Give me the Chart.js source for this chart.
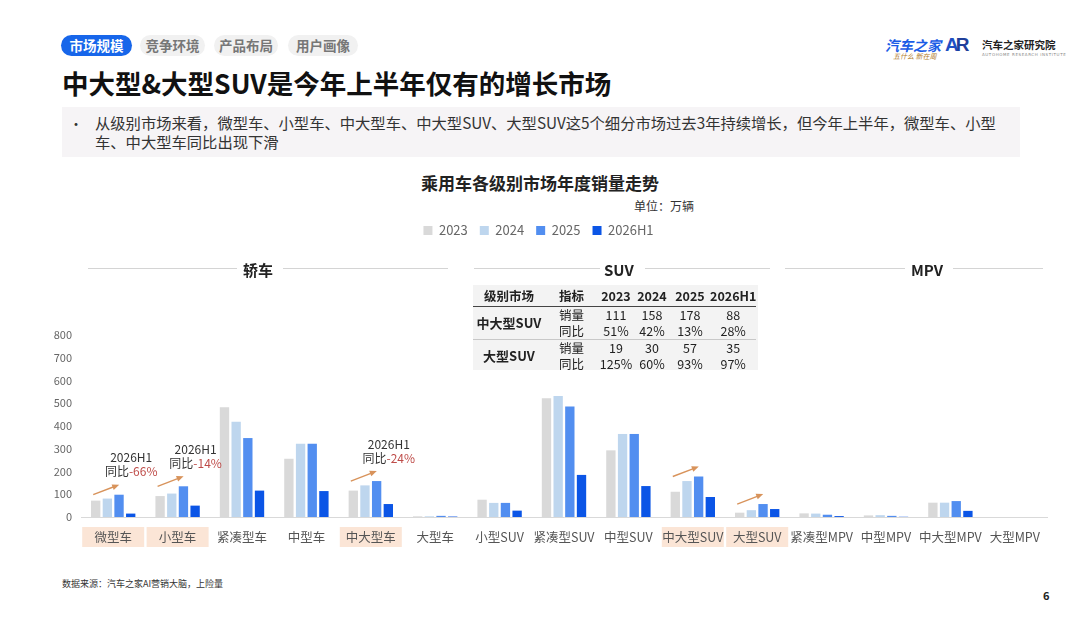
<!DOCTYPE html>
<html>
<head>
<meta charset="utf-8">
<script src="https://cdn.jsdelivr.net/npm/chart.js@4.4.1/dist/chart.umd.min.js"></script>
<style>
  body { margin: 0; background: #fff; font-family: "Noto Sans CJK SC", "Noto Sans", sans-serif; }
  #page { position: relative; width: 1080px; height: 622px; overflow: hidden; background: #fff; }
  .abs { position: absolute; white-space: nowrap; }
  .tab { position: absolute; top: 35px; height: 21px; line-height: 21px; border-radius: 11px; background: #f1f1f1;
         color: #777; font-size: 13.5px; font-weight: 700; text-align: center; }
  .tab.active { background: #1766ea; color: #fff; }
  #title { left: 62px; top: 63px; font-size: 26.5px; font-weight: 700; color: #111; }
  #bullet { position: absolute; left: 62px; top: 107px; width: 958px; height: 50px; background: #f6f4f6; }
  #bullet .dot { position: absolute; left: 7px; top: 6px; font-size: 14px; color: #333; }
  #bullet .txt { position: absolute; left: 33px; top: 6px; width: 910px; font-size: 15.3px; line-height: 19px; color: #333; white-space: normal; }
  #chartTitle { left: 0; width: 1080px; top: 170px; text-align: center; font-size: 17px; font-weight: 700; color: #222; }
  #unit { left: 634px; top: 197px; font-size: 12px; color: #333; }
  .sec { position: absolute; top: 259px; font-size: 15px; font-weight: 700; color: #222; }
  .secline { position: absolute; top: 268px; height: 1px; background: #d4d4d4; }
  #wrap { position: absolute; left: 30px; top: 212px; width: 1050px; height: 340px; }
  #tbl { position: absolute; left: 473px; top: 285px; width: 285px; height: 85px; background: #f3f3f3; }
  #tbl table { border-collapse: collapse; font-size: 12.5px; color: #222; }
  #tbl td { padding: 0; height: 16px; line-height: 16px; text-align: center; }
  #tbl tr.head td { font-weight: 700; height: 21px; border-bottom: 1.5px solid #444; }
  #tbl td.grp { font-weight: 700; font-size: 13px; }
  #tbl tr.sep td { border-bottom: 1px solid #c8c8c8; }
  #source { left: 62px; top: 577px; font-size: 9px; color: #333; }
  #pageNo { left: 1043px; top: 587px; font-size: 11px; font-weight: 700; color: #222; }
</style>
</head>
<body>
<div id="page">
  <div class="tab active" style="left:61px;width:71px;">市场规模</div>
  <div class="tab" style="left:140px;width:65px;">竞争环境</div>
  <div class="tab" style="left:214px;width:64px;">产品布局</div>
  <div class="tab" style="left:288px;width:70px;">用户画像</div>

  <div class="abs" style="left:885px;top:35px;font-size:14px;font-weight:700;color:#1a5ce6;font-style:italic;">汽车之家</div>
  <div class="abs" style="left:893px;top:51px;font-size:7px;color:#b07a2a;font-style:italic;">五什么 新在周</div>
  <div class="abs" style="left:945px;top:34px;font-size:19px;font-weight:700;color:#1f4fc4;letter-spacing:-3px;font-family:'Liberation Sans',sans-serif;">A<span style="color:#1f3f9a;">R</span></div>
  <div class="abs" style="left:982px;top:37px;font-size:10.5px;font-weight:700;color:#222;">汽车之家研究院</div>
  <div class="abs" style="left:982px;top:52px;font-size:4px;color:#888;letter-spacing:0.6px;font-family:'DejaVu Sans',sans-serif;">AUTOHOME RESEARCH INSTITUTE</div>

  <div id="title" class="abs">中大型&amp;大型SUV是今年上半年仅有的增长市场</div>
  <div id="bullet">
    <div class="dot">•</div>
    <div class="txt">从级别市场来看，微型车、小型车、中大型车、中大型SUV、大型SUV这5个细分市场过去3年持续增长，但今年上半年，微型车、小型车、中大型车同比出现下滑</div>
  </div>

  <div id="chartTitle" class="abs">乘用车各级别市场年度销量走势</div>
  <div id="unit" class="abs">单位：万辆</div>

  <div id="wrap"><canvas id="salesChart"></canvas></div>

  <div class="secline" style="left:88px;width:149px;"></div>
  <div class="sec" style="left:243px;">轿车</div>
  <div class="secline" style="left:283px;width:165px;"></div>
  <div class="secline" style="left:474px;width:126px;"></div>
  <div class="sec" style="left:604px;">SUV</div>
  <div class="secline" style="left:645px;width:125px;"></div>
  <div class="secline" style="left:785px;width:120px;"></div>
  <div class="sec" style="left:911px;">MPV</div>
  <div class="secline" style="left:953px;width:90px;"></div>

  <div id="tbl"></div>

  <div id="source" class="abs">数据来源：汽车之家AI营销大脑，上险量</div>
  <div id="pageNo" class="abs">6</div>
</div>

<script>
// Categories and annual sales (10k units)
const categories = ['微型车', '小型车', '紧凑型车', '中型车', '中大型车', '大型车',
  '小型SUV', '紧凑型SUV', '中型SUV', '中大型SUV', '大型SUV',
  '紧凑型MPV', '中型MPV', '中大型MPV', '大型MPV'];
const seriesNames = ['2023', '2024', '2025', '2026H1'];
const sales2023 = [72, 92, 482, 256, 116, 3, 76, 522, 293, 111, 19, 16, 7, 63, 0];
const sales2024 = [81, 103, 419, 322, 139, 3, 62, 532, 365, 158, 30, 15, 8, 63, 0];
const sales2025 = [98, 135, 347, 322, 158, 5, 62, 486, 365, 178, 57, 10, 5, 70, 0];
const sales2026H1 = [15, 50, 116, 114, 57, 2, 28, 185, 136, 88, 35, 4, 1, 27, 0];
const seriesColors = ['#d9d9d9', '#bed6ee', '#528ef0', '#0b55e6'];
const yTicks = [0, 100, 200, 300, 400, 500, 600, 700, 800];

// Highlighted segments with growth arrows, and H1 yoy callouts
const highlightCats = ['微型车', '小型车', '中大型车', '中大型SUV', '大型SUV'];
const yoyCats = ['微型车', '小型车', '中大型车'];
const yoyValues = ['-66%', '-14%', '-24%'];

// Table data
const tableHeader = ['级别市场', '指标', '2023', '2024', '2025', '2026H1'];
const tableGroups = ['中大型SUV', '大型SUV'];
const tableMetrics = ['销量', '同比'];
const tableSales = [[111, 158, 178, 88], [19, 30, 57, 35]];
const tableYoy = [['51%', '42%', '13%', '28%'], ['125%', '60%', '93%', '97%']];

function buildTable() {
  const widths = [72, 53, 36, 36, 40, 46];
  let html = '<table><colgroup>' + widths.map(w => `<col style="width:${w}px">`).join('') + '</colgroup>';
  html += '<tr class="head">' + tableHeader.map(h => `<td>${h}</td>`).join('') + '</tr>';
  tableGroups.forEach((g, gi) => {
    const sep = gi === 0 ? ' class="sep"' : '';
    html += `<tr><td class="grp" rowspan="2"${gi === 0 ? ' style="border-bottom:1px solid #c8c8c8"' : ''}>${g}</td><td>${tableMetrics[0]}</td>` +
      tableSales[gi].map(v => `<td>${v}</td>`).join('') + '</tr>';
    html += `<tr${sep}><td>${tableMetrics[1]}</td>` + tableYoy[gi].map(v => `<td>${v}</td>`).join('') + '</tr>';
  });
  html += '</table>';
  document.getElementById('tbl').innerHTML = html;
}

const labelFont = '"Noto Sans CJK SC", "Noto Sans", sans-serif';

// Legend spacing so the plot starts under the section headers
const legendSpacer = {
  id: 'legendSpacer',
  beforeInit(chart) {
    const fit = chart.legend.fit;
    chart.legend.fit = function() {
      fit.call(this);
      this.height = 123;
    };
  }
};

// Peach boxes behind highlighted category labels
const labelBoxes = {
  id: 'labelBoxes',
  beforeDraw(chart) {
    const ctx = chart.ctx;
    const x = chart.scales.x;
    const top = chart.chartArea.bottom + 10;
    ctx.save();
    ctx.fillStyle = '#fbe5d6';
    highlightCats.forEach(c => {
      const cx = x.getPixelForValue(categories.indexOf(c));
      ctx.fillRect(cx - 31, top, 62, 20);
    });
    ctx.restore();
  }
};

// Growth arrows and yoy callouts
const arrowNotes = {
  id: 'arrowNotes',
  afterDraw(chart) {
    const ctx = chart.ctx;
    const x = chart.scales.x;
    const y = chart.scales.y;
    ctx.save();
    highlightCats.forEach(c => {
      const i = categories.indexOf(c);
      const cx = x.getPixelForValue(i);
      const ex = cx + 6;
      const ey = y.getPixelForValue(sales2025[i]) - 10;
      const sx = ex - 26;
      const sy = ey + 10;
      const ang = Math.atan2(ey - sy, ex - sx);
      ctx.strokeStyle = '#d8935b';
      ctx.fillStyle = '#d8935b';
      ctx.lineWidth = 1.4;
      ctx.beginPath();
      ctx.moveTo(sx, sy);
      ctx.lineTo(ex - 5 * Math.cos(ang), ey - 5 * Math.sin(ang));
      ctx.stroke();
      ctx.beginPath();
      ctx.moveTo(ex, ey);
      ctx.lineTo(ex - 7 * Math.cos(ang) + 3 * Math.sin(ang), ey - 7 * Math.sin(ang) - 3 * Math.cos(ang));
      ctx.lineTo(ex - 7 * Math.cos(ang) - 3 * Math.sin(ang), ey - 7 * Math.sin(ang) + 3 * Math.cos(ang));
      ctx.closePath();
      ctx.fill();

      const k = yoyCats.indexOf(c);
      if (k >= 0) {
        const tx = cx + 18;
        ctx.font = '12px ' + labelFont;
        ctx.textBaseline = 'middle';
        ctx.textAlign = 'center';
        ctx.fillStyle = '#333';
        ctx.fillText('2026H1', tx, ey - 27);
        const pre = '同比';
        const val = yoyValues[k];
        const w1 = ctx.measureText(pre).width;
        const w2 = ctx.measureText(val).width;
        const left = tx - (w1 + w2) / 2;
        ctx.textAlign = 'left';
        ctx.fillText(pre, left, ey - 13);
        ctx.fillStyle = '#be4b48';
        ctx.fillText(val, left + w1, ey - 13);
      }
    });
    ctx.restore();
  }
};

function initChart() {
  const allSeries = [sales2023, sales2024, sales2025, sales2026H1];
  const ctx = document.getElementById('salesChart').getContext('2d');
  return new Chart(ctx, {
    type: 'bar',
    data: {
      labels: categories,
      datasets: allSeries.map((s, i) => ({
        label: seriesNames[i],
        data: s,
        backgroundColor: seriesColors[i],
        categoryPercentage: 0.725,
        barPercentage: 0.8
      }))
    },
    options: {
      responsive: true,
      maintainAspectRatio: false,
      animation: false,
      layout: { padding: { left: 0, right: 33, top: 0, bottom: 0 } },
      plugins: {
        legend: {
          position: 'top',
          labels: {
            boxWidth: 9,
            boxHeight: 9,
            padding: 12,
            color: '#666',
            font: { size: 13, family: labelFont }
          }
        },
        tooltip: { enabled: false }
      },
      scales: {
        x: {
          grid: { display: false, drawTicks: false },
          border: { color: '#d9d9d9', width: 1 },
          ticks: {
            color: '#555',
            padding: 13,
            autoSkip: false,
            maxRotation: 0,
            font: { size: 12.5, family: labelFont }
          },
          afterFit(scale) { scale.height = 35; }
        },
        y: {
          min: 0,
          max: 800,
          afterBuildTicks(scale) { scale.ticks = yTicks.map(v => ({ value: v })); },
          grid: { display: false, drawTicks: false },
          border: { display: false },
          ticks: {
            color: '#666',
            padding: 9,
            font: { size: 11, family: labelFont }
          },
          afterFit(scale) { scale.width = 51; }
        }
      }
    },
    plugins: [legendSpacer, labelBoxes, arrowNotes]
  });
}

document.addEventListener('DOMContentLoaded', function() {
  buildTable();
  window.salesChart = initChart();
});
</script>
</body>
</html>
